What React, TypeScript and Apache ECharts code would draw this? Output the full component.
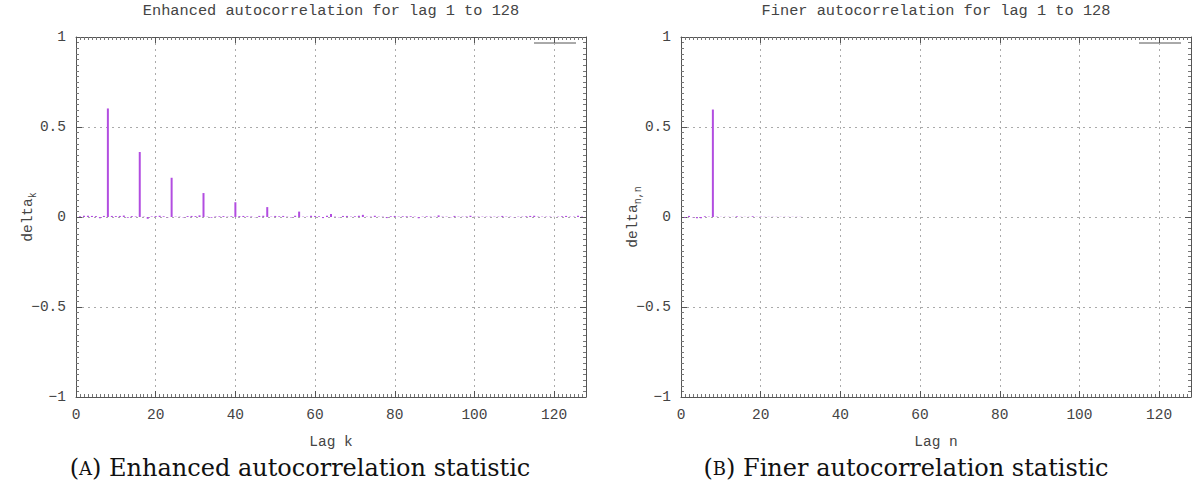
import React, { useEffect, useRef } from "react";
import * as echarts from "echarts";

// Enhanced autocorrelation delta_k, lag k = 1..127
const deltaK: number[] = [
  0.004, 0.007, 0.007, 0.006, 0.005, -0.007, 0.006, 0.603, 0.006, 0.005,
  0.006, 0.008, -0.004, 0.005, 0.003, 0.361, 0.002, -0.010, 0.003, 0.005,
  0.007, 0.004, -0.002, 0.218, 0.002, 0.002, -0.003, 0.005, 0.006, 0.005,
  0.009, 0.133, 0.002, -0.004, 0.003, 0.004, 0.005, 0.002, 0.004, 0.082,
  0.005, 0.006, 0.004, 0.003, -0.002, 0.006, 0.007, 0.055, 0.002, 0.006,
  0.004, 0.006, 0.002, -0.003, 0.007, 0.030, 0.002, 0.002, 0.007, 0.006,
  0.004, -0.006, 0.007, 0.017, 0.002, -0.002, 0.006, 0.006, 0.002, 0.004,
  0.007, 0.012, 0.002, 0.002, 0.007, 0.002, 0.002, -0.006, 0.004, 0.006,
  0.002, 0.004, 0.004, 0.004, 0.002, -0.007, 0.002, 0.004, 0.002, 0.002,
  0.009, 0.002, 0.002, -0.002, 0.006, 0.002, 0.002, 0.003, 0.007, 0.002,
  0.002, 0.002, 0.002, 0.002, 0.002, 0.002, 0.006, 0.002, 0.002, -0.002,
  0.002, 0.002, 0.004, 0.006, 0.007, 0.002, 0.002, 0.002, 0.002, 0.001,
  0.002, 0.004, 0.006, 0.002, 0.002, 0.007, 0.002,
];

// Finer autocorrelation delta_{n,n}, lag n = 1..30
const deltaNN: number[] = [
  -0.004, 0.006, -0.002, -0.007, -0.007, 0.004, 0.002, 0.597, 0.002, 0.001,
  0.001, 0.001, 0.001, 0.004, 0.001, 0.001, 0.001, 0.004, 0.001, 0.002,
  0.001, 0.001, 0.001, 0.001, 0.001, 0.001, 0.001, 0.001, 0.001, 0.001,
];

const xMin = 0;
const xMax = 128;
const xStep = 20;
const yMin = -1;
const yMax = 1;
const yStep = 0.5;

const titles = [
  "Enhanced autocorrelation for lag 1 to 128",
  "Finer autocorrelation for lag 1 to 128",
];
const xNames = ["Lag k", "Lag n"];
const yNames = ["{a|delta}{b|k}", "{a|delta}{b|n,n}"];
const captionLetters = ["A", "B"];
const captions = [
  " Enhanced autocorrelation statistic",
  " Finer autocorrelation statistic",
];

const MONO = '"Liberation Mono", "DejaVu Sans Mono", monospace';
const SERIF = '"DejaVu Serif", "Liberation Serif", serif';
const AXIS_COLOR = "#555";
const TEXT_COLOR = "#444";
const BAR_COLOR = "#b24de0";

const fmtY = (v: number) => {
  if (v === 0) return "0";
  const s = String(Math.abs(v));
  return v < 0 ? "\u2212" + s : s;
};

export default function App() {
  const ref = useRef<HTMLDivElement>(null);

  useEffect(() => {
    document.body.style.margin = "0";
    if (!ref.current) return;
    const chart = echarts.init(ref.current, undefined, { renderer: "svg" });

    const grids = [
      { left: 76, top: 37, width: 510, height: 360 },
      { left: 681, top: 37, width: 510, height: 360 },
    ];

    const xAxes: any[] = [];
    const yAxes: any[] = [];
    [0, 1].forEach((g) => {
      const common = {
        type: "value",
        gridIndex: g,
        min: xMin,
        max: xMax,
        interval: xStep,
        axisLine: { show: true, onZero: false, lineStyle: { color: AXIS_COLOR, width: 1 } },
        axisTick: { show: true, inside: true, length: 6, lineStyle: { color: AXIS_COLOR } },
        minorTick: { show: true, splitNumber: 20, length: 3, lineStyle: { color: "#777" } },
      };
      xAxes.push({
        ...common,
        position: "bottom",
        name: xNames[g],
        nameLocation: "middle",
        nameGap: 37,
        nameMoveOverlap: false,
        nameTextStyle: { fontFamily: MONO, fontSize: 14.5, color: TEXT_COLOR },
        axisLabel: {
          show: true,
          showMaxLabel: false,
          margin: 10,
          fontFamily: MONO,
          fontSize: 14.5,
          color: TEXT_COLOR,
        },
        splitLine: { show: true, lineStyle: { color: "#aaa", type: [2, 4], width: 1 } },
      });
      xAxes.push({
        ...common,
        position: "top",
        axisLabel: { show: false },
        splitLine: { show: false },
      });
      const ycommon = {
        type: "value",
        gridIndex: g,
        min: yMin,
        max: yMax,
        interval: yStep,
        axisLine: { show: true, onZero: false, lineStyle: { color: AXIS_COLOR, width: 1 } },
        axisTick: { show: true, inside: true, length: 6, lineStyle: { color: AXIS_COLOR } },
        minorTick: { show: true, splitNumber: 16, length: 3, lineStyle: { color: "#777" } },
      };
      yAxes.push({
        ...ycommon,
        position: "left",
        name: yNames[g],
        nameLocation: "middle",
        nameGap: 38,
        nameMoveOverlap: false,
        nameRotate: 90,
        nameTextStyle: {
          fontFamily: MONO,
          color: TEXT_COLOR,
          rich: {
            a: { fontFamily: MONO, fontSize: 14.5, color: TEXT_COLOR, lineHeight: 20 },
            b: {
              fontFamily: MONO,
              fontSize: 10,
              color: TEXT_COLOR,
              verticalAlign: "bottom",
              lineHeight: 20,
              padding: [6, 0, 0, 0],
            },
          },
        },
        axisLabel: {
          show: true,
          margin: 10,
          fontFamily: MONO,
          fontSize: 14.5,
          color: TEXT_COLOR,
          formatter: fmtY,
        },
        splitLine: { show: true, lineStyle: { color: "#aaa", type: [2, 4], width: 1 } },
      });
      yAxes.push({
        ...ycommon,
        position: "right",
        axisLabel: { show: false },
        splitLine: { show: false },
      });
    });

    const graphic: any[] = [];
    const centers = [331, 936];
    [0, 1].forEach((g) => {
      graphic.push({
        type: "text",
        x: centers[g],
        y: 11,
        style: {
          text: titles[g],
          fontFamily: MONO,
          fontSize: 15.3,
          fill: TEXT_COLOR,
          align: "center",
          verticalAlign: "middle",
        },
      });
      graphic.push({
        type: "text",
        x: g === 0 ? 300 : 906,
        y: 468,
        style: {
          text: "(" + "{sc|" + captionLetters[g] + "})" + captions[g],
          fontFamily: SERIF,
          fontSize: 24,
          fill: "#111",
          align: "center",
          verticalAlign: "middle",
          rich: {
            sc: { fontFamily: SERIF, fontSize: 18, fill: "#111" },
          },
        },
      });
      const gx = grids[g].left + grids[g].width;
      graphic.push({
        type: "line",
        shape: { x1: gx - 52, y1: 43, x2: gx - 10, y2: 43 },
        style: { stroke: AXIS_COLOR, lineWidth: 1 },
      });
    });

    chart.setOption({
      animation: false,
      backgroundColor: "#fff",
      grid: grids,
      xAxis: xAxes,
      yAxis: yAxes,
      graphic,
      series: [
        {
          type: "bar",
          xAxisIndex: 0,
          yAxisIndex: 0,
          barWidth: 2,
          itemStyle: { color: BAR_COLOR },
          data: deltaK.map((v, i) => [i + 1, v]),
        },
        {
          type: "bar",
          xAxisIndex: 2,
          yAxisIndex: 2,
          barWidth: 2,
          itemStyle: { color: BAR_COLOR },
          data: deltaNN.map((v, i) => [i + 1, v]),
        },
      ],
    });

    return () => chart.dispose();
  }, []);

  return <div ref={ref} style={{ width: 1193, height: 500 }} />;
}
